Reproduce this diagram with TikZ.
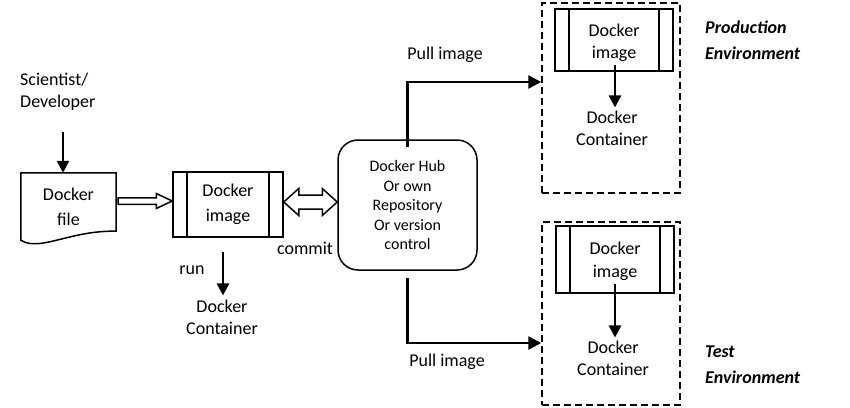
\documentclass[tikz,border=0pt]{standalone}
\usepackage{fontspec}
\setmainfont{Carlito}
\usetikzlibrary{calc,arrows.meta}
\begin{document}
\begin{tikzpicture}[x=1pt,y=-1pt,
  lbl/.style={font=\fontsize{18}{22}\selectfont, align=center, inner sep=0pt},
  envlbl/.style={font=\fontsize{18}{26}\selectfont\bfseries\itshape, align=left, inner sep=0pt, anchor=west},
  imgbox/.style={draw, line width=1.5pt, rectangle, inner sep=0pt, align=center,
    font=\fontsize{18}{25}\selectfont,
    path picture={\draw[line width=1.5pt] ([xshift=14pt]path picture bounding box.north west) -- ([xshift=14pt]path picture bounding box.south west);
                  \draw[line width=1.5pt] ([xshift=-14pt]path picture bounding box.north east) -- ([xshift=-14pt]path picture bounding box.south east);}},
  envbox/.style={draw, line width=1.5pt, dash pattern=on 7pt off 4pt, rectangle, inner sep=0pt},
  solidarrow/.style={line width=2.6pt, -{Triangle[length=12pt,width=12pt]}},
  hollow/.style={line width=1.5pt, fill=white, line join=miter},
]
\useasboundingbox (0,0) rectangle (850,407);

% left part
\node[lbl, align=left, anchor=west] (sci) at (20,92) {Scientist/\\Developer};
\node[inner sep=0pt, minimum width=95pt, minimum height=67pt, align=center,
      font=\fontsize{18}{25}\selectfont] (file) at (68.5,206.5) {Docker\\file};
\draw[line width=1.5pt] (file.north west) -- (file.north east) -- ($(file.south east)+(0,-9)$)
  .. controls ($(file.south west)+(49,-10)$) and ($(file.south west)+(19,12)$) .. (file.south west) -- cycle;
\coordinate (sciarrow) at (63,132);
\draw[solidarrow] (sciarrow) -- (sciarrow |- file.north);

\node[imgbox, minimum width=110pt, minimum height=65pt] (img1) at (228,204.5) {Docker\\image};

% hollow arrow file -> image
\coordinate (fa2) at ($(img1.west)+(0,-3.5)$);
\coordinate (fa1) at ($(file.east |- fa2)+(2,0)$);
\draw[hollow] ($(fa1)+(0,-3.25)$) -- ($(fa2)+(-16,-3.25)$) -- ($(fa2)+(-16,-7.5)$) -- (fa2)
  -- ($(fa2)+(-16,7.5)$) -- ($(fa2)+(-16,3.25)$) -- ($(fa1)+(0,3.25)$) -- cycle;

% run
\node[lbl] (cont1) at (222,317) {Docker\\Container};
\coordinate (runtop) at (223,252);
\draw[solidarrow] (runtop) -- ($(runtop |- cont1.north)+(0,-4)$);
\node[lbl] (run) at (192,270) {run};

% hub
\node[draw, line width=1.5pt, rounded corners=20pt, minimum width=139pt, minimum height=130pt,
      align=center, font=\fontsize{16}{19.5}\selectfont, inner sep=0pt] (hub) at (407.5,205)
  {Docker Hub\\Or own\\Repository\\Or version\\control};

% double hollow arrow
\coordinate (da1) at ($(img1.east)+(0,-2.5)$);
\coordinate (da2) at (da1 -| hub.west);
\draw[hollow] (da1) -- ($(da1)+(15,-13.5)$) -- ($(da1)+(15,-7)$) -- ($(da2)+(-15,-7)$) -- ($(da2)+(-15,-13.5)$)
  -- (da2) -- ($(da2)+(-15,13.5)$) -- ($(da2)+(-15,7)$) -- ($(da1)+(15,7)$) -- ($(da1)+(15,13.5)$) -- cycle;
\node[lbl] (commit) at (305,248) {commit};

% environments
\node[envbox, minimum width=138pt, minimum height=190pt] (prod) at (611,98) {};
\node[envbox, minimum width=138pt, minimum height=183pt] (test) at (611,313.5) {};

\node[imgbox, minimum width=118pt, minimum height=62pt, font=\fontsize{18}{21.5}\selectfont] (img2) at (614,40) {\rule{0pt}{18pt}Docker\\image};
\node[lbl] (cont2) at (612,128) {Docker\\Container};
\draw[solidarrow] ($(img2.south)+(1,-7)$) -- ($(img2.south |- cont2.north)+(1,-3)$);

\node[imgbox, minimum width=118pt, minimum height=67pt, font=\fontsize{18}{23}\selectfont] (img3) at (615,259.5) {\rule{0pt}{16pt}Docker\\image};
\node[lbl] (cont3) at (613,358) {Docker\\Container};
\draw[solidarrow] ($(img3.south)+(0,-10)$) -- ($(img3.south |- cont3.north)+(0,-3)$);

\node[envlbl] (prodlbl) at (705,40) {Production\\Environment};
\node[envlbl] (testlbl) at (705,364.5) {Test\\Environment};

% pull arrows
\draw[solidarrow, -{Triangle[length=13pt,width=13pt]}] ([yshift=-8pt]hub.north) |- ([yshift=16pt]prod.west);
\draw[solidarrow, -{Triangle[length=13pt,width=13pt]}] ([yshift=-7pt]hub.south) |- ([yshift=-29.5pt]test.west);
\node[lbl] (pull1) at (445,55) {Pull image};
\node[lbl] (pull2) at (447,362) {Pull image};
\end{tikzpicture}
\end{document}
